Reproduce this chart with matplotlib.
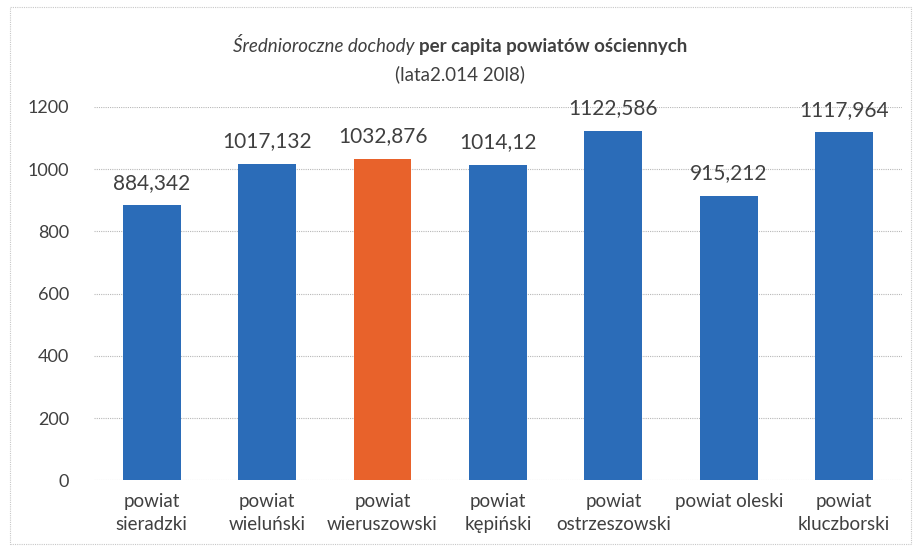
import matplotlib
matplotlib.use("Agg")
import matplotlib.pyplot as plt
from matplotlib.patches import Rectangle

plt.rcParams["font.family"] = ["Lato", "DejaVu Sans"]

categories = ["powiat\nsieradzki", "powiat\nwieluński", "powiat\nwieruszowski",
              "powiat\nkępiński", "powiat\nostrzeszowski", "powiat oleski",
              "powiat\nkluczborski"]
values = [884.342, 1017.132, 1032.876, 1014.12, 1122.586, 915.212, 1117.964]
value_labels = ["884,342", "1017,132", "1032,876", "1014,12", "1122,586", "915,212", "1117,964"]
highlight = 2
yticks = [0, 200, 400, 600, 800, 1000, 1200]

blue = "#2B6CB8"
orange = "#E8622B"
text_col = "#404040"

fig = plt.figure(figsize=(9.17, 5.51), dpi=100)
ax = fig.add_axes([0.1025, 0.128, 0.881, 0.678])

colors = [orange if i == highlight else blue for i in range(len(values))]
x = list(range(len(values)))
ax.bar(x, values, width=0.5, color=colors, zorder=3)

for xi, v, lab in zip(x, values, value_labels):
    ax.annotate(lab, (xi, v), xytext=(0, 9), textcoords="offset points",
                ha="center", va="bottom", fontsize=15, color=text_col,
                annotation_clip=False)

ax.set_xlim(-0.5, len(values) - 0.5)
ax.set_ylim(0, 1200)
ax.set_yticks(yticks)
ax.set_xticks(x)
ax.set_xticklabels(categories, fontsize=13.5, color=text_col, linespacing=1.4)
ax.tick_params(axis="y", length=0, pad=18, labelsize=13, labelcolor=text_col)
ax.tick_params(axis="x", length=0, pad=9)
ax.grid(axis="y", color="#b8b8b8", linestyle=(0, (1, 1)), linewidth=0.8, zorder=0)
for s in ax.spines.values():
    s.set_visible(False)

# title: italic part + bold part on one line
fig.canvas.draw()
r = fig.canvas.get_renderer()
t1 = fig.text(0, 0, "Średnioroczne dochody ", fontsize=13.5, style="italic", color=text_col)
t2 = fig.text(0, 0, "per capita powiatów ościennych", fontsize=13.5, weight="bold", color=text_col)
w1 = t1.get_window_extent(r).width
w2 = t2.get_window_extent(r).width
x0 = (917 * 0.502 - (w1 + w2) / 2) / 917
ty = 1 - 52 / 551
t1.set_position((x0, ty))
t2.set_position((x0 + w1 / 917, ty))
fig.text(0.502, 1 - 80 / 551, "(lata2.014 20l8)", fontsize=13.5, ha="center", color=text_col)

fig.patches.append(Rectangle((0.011, 0.012), 0.983, 0.976, transform=fig.transFigure,
                             fill=False, edgecolor="#c8c8c8", linestyle=(0, (1, 1)),
                             linewidth=0.8))

fig.savefig("out.png", dpi=100, facecolor="white")
